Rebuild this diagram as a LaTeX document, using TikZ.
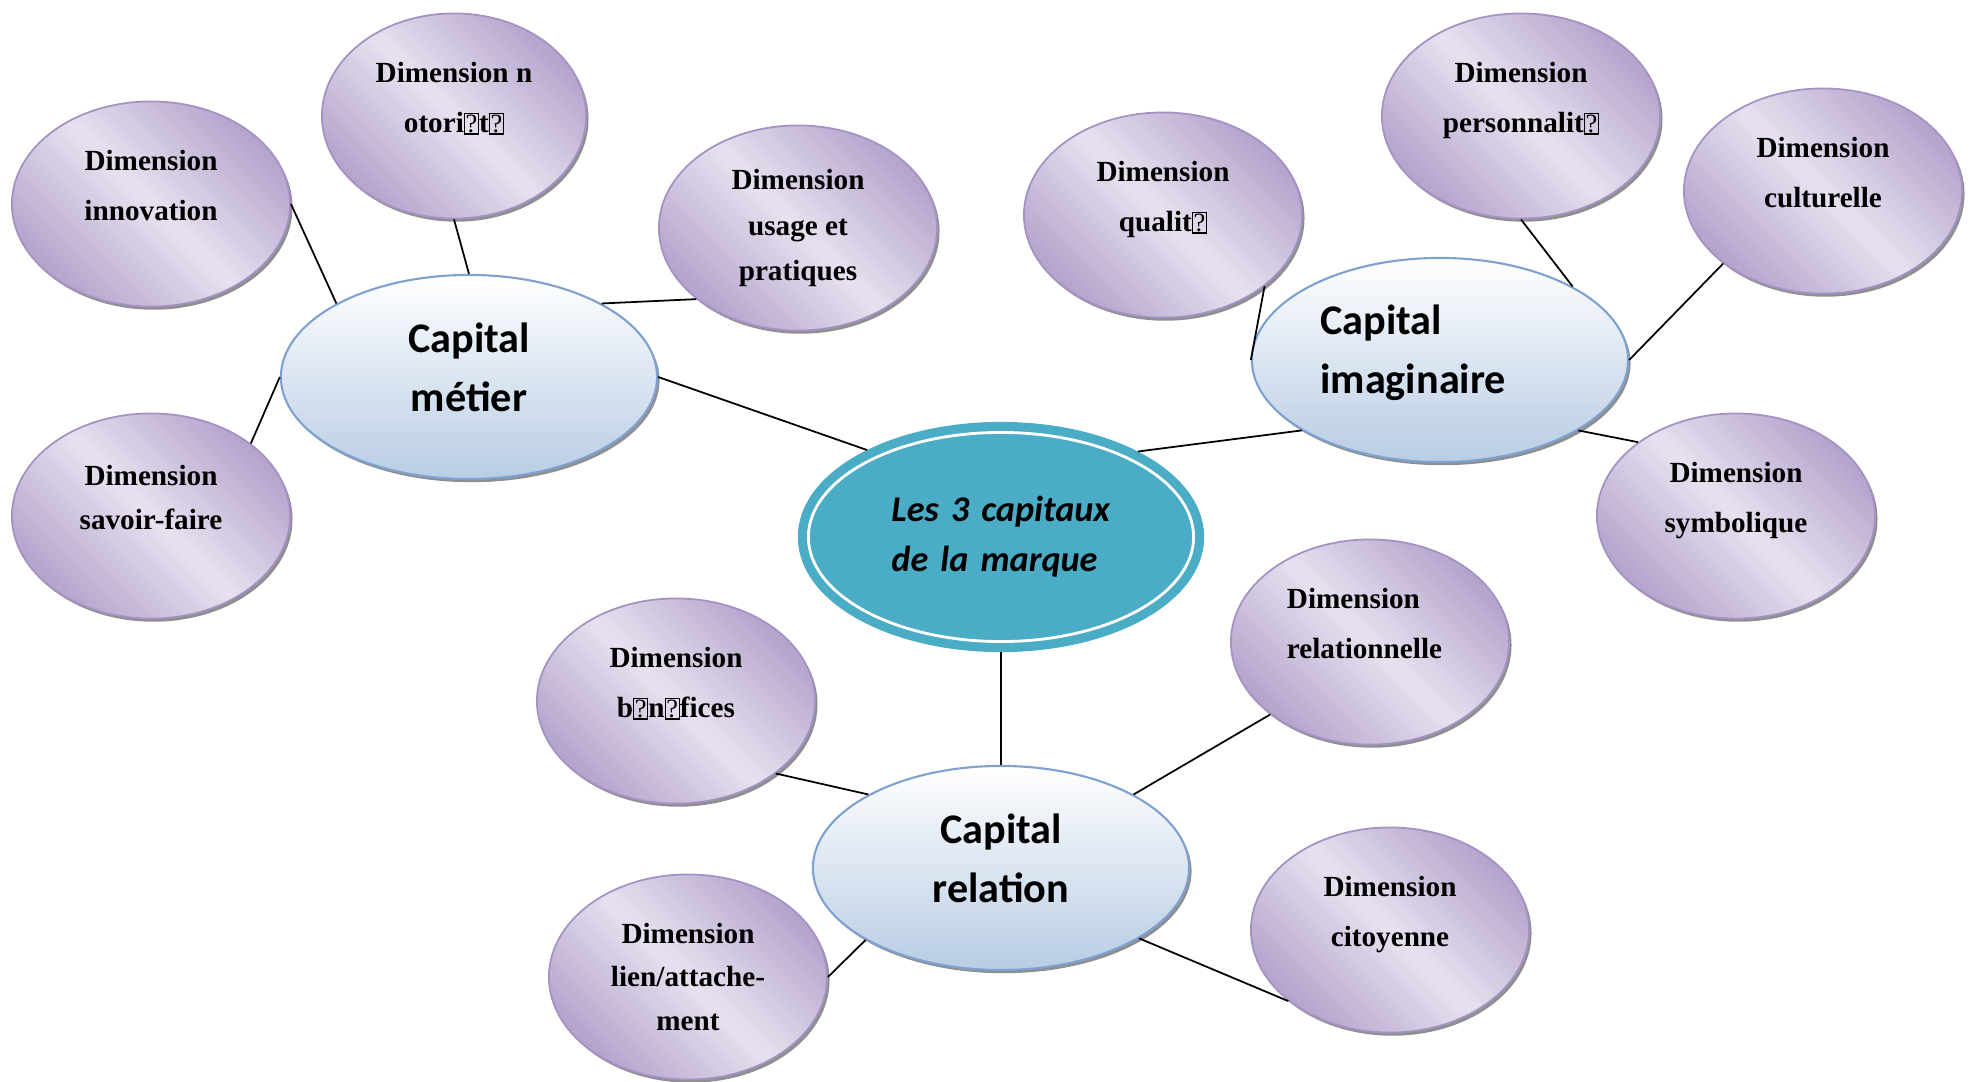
\documentclass[tikz,border=0pt]{standalone}
\usepackage{fontspec}
\setmainfont{Liberation Serif}
\newfontfamily\calibri{Carlito}
\usepackage{tikz}
\usetikzlibrary{shapes.geometric,shadows}

\definecolor{dimlight}{RGB}{231,225,239}
\definecolor{dimdark}{RGB}{180,163,204}
\definecolor{dimline}{RGB}{164,146,196}
\definecolor{capline}{RGB}{127,161,207}
\definecolor{capdark}{RGB}{184,204,228}
\definecolor{coreteal}{RGB}{75,172,198}

\newcommand{\nog}{{\fboxsep=0.15pt\fboxrule=0.35pt\fbox{\fontsize{7.5}{7.5}\selectfont\mdseries ?}}}

\tikzset{
    dimbox/.style={ellipse, draw=dimline, line width=0.5pt,
        top color=dimdark, bottom color=dimdark, middle color=dimlight,
        shading angle=-45, minimum width=2.78cm, minimum height=2.05cm,
        inner sep=0pt, align=center,
        font=\fontsize{8.3}{14.2}\selectfont\bfseries,
        drop shadow={shadow xshift=0.7pt, shadow yshift=-0.9pt, fill=black!55, opacity=0.8}},
    capbox/.style={ellipse, draw=capline, line width=0.6pt,
        top color=white, bottom color=capdark,
        minimum width=3.76cm, minimum height=2.04cm,
        inner sep=0pt, align=center, text depth=5.5pt,
        font=\calibri\fontsize{12}{16.8}\selectfont\bfseries,
        drop shadow={shadow xshift=0.7pt, shadow yshift=-0.9pt, fill=black!55, opacity=0.8}},
    corebox/.style={ellipse, fill=coreteal, draw=coreteal, line width=2.6pt,
        double=white, double distance=0.8pt, outer sep=3.1pt,
        minimum width=3.85cm, minimum height=2.09cm,
        inner sep=0pt, align=left, text width=2.19cm,
        font=\calibri\fontsize{10.3}{14.2}\selectfont\bfseries\itshape},
    spoke/.style={draw=black, line width=0.5pt}
}

\begin{document}
\begin{tikzpicture}[x=0.01cm, y=-0.01cm]
    \useasboundingbox (0,0) rectangle (1974,1082);
    \node[corebox] (core) at (1001,537) {Les 3 capitaux\\de la marque};
    \node[capbox] (metier) at (469,377) {Capital\\métier};
    \node[capbox, align=left, text width=2.39cm, text depth=23pt] (imag) at (1440,360) {Capital\\imaginaire};
    \node[capbox] (relation) at (1001,868) {Capital\\relation};
    \node[dimbox] (innov) at (151,204) {Dimension\\innovation\\[-3.6pt]\mbox{}};
    \node[dimbox, minimum width=2.64cm] (notor) at (454,116) {Dimension n\\otori\nog t\nog\\[-3.6pt]\mbox{}};
    \node[dimbox] (usage) at (798,228) {Dimension\\[-1.2pt]usage et\\[-1.2pt]pratiques};
    \node[dimbox] (savoir) at (151,516) {Dimension\\[-1.6pt]savoir-faire\\[-3.6pt]\mbox{}};
    \node[dimbox] (qualite) at (1163,215) {Dimension\\qualit\nog\\[-3.6pt]\mbox{}};
    \node[dimbox] (perso) at (1521,116) {Dimension\\personnalit\nog\\[-3.6pt]\mbox{}};
    \node[dimbox] (cult) at (1823,191) {Dimension\\culturelle\\[-3.6pt]\mbox{}};
    \node[dimbox] (symb) at (1736,516) {Dimension\\symbolique\\[-3.6pt]\mbox{}};
    \node[dimbox, align=left, text width=1.66cm] (relnl) at (1370,642) {Dimension\\relationnelle\\[-3.6pt]\mbox{}};
    \node[dimbox] (benef) at (676,701) {Dimension\\b\nog n\nog fices\\[-3.6pt]\mbox{}};
    \node[dimbox] (lien) at (688,977) {Dimension\\[-1.7pt]lien/attache-\\[-1.7pt]ment};
    \node[dimbox] (citoy) at (1390,930) {Dimension\\citoyenne\\[-3.6pt]\mbox{}};
    \draw[spoke] (innov.east) -- (metier.151);
    \draw[spoke] (notor.south) -- (metier.north);
    \draw[spoke] (usage.215) -- (metier.29);
    \draw[spoke] (savoir.36) -- (metier.west);
    \draw[spoke] (metier.east) -- (core.147);
    \draw[spoke] (qualite.325) -- (imag.west);
    \draw[spoke] (perso.south) -- (imag.29);
    \draw[spoke] (cult.216) -- (imag.east);
    \draw[spoke] (symb.143) -- (imag.333);
    \draw[spoke] (imag.207) -- (core.32);
    \draw[spoke] (core.south) -- (relation.north);
    \draw[spoke] (benef.324) -- (relation.151);
    \draw[spoke] (relnl.216) -- (relation.29);
    \draw[spoke] (lien.east) -- (relation.208);
    \draw[spoke] (citoy.215) -- (relation.333);
\end{tikzpicture}
\end{document}
